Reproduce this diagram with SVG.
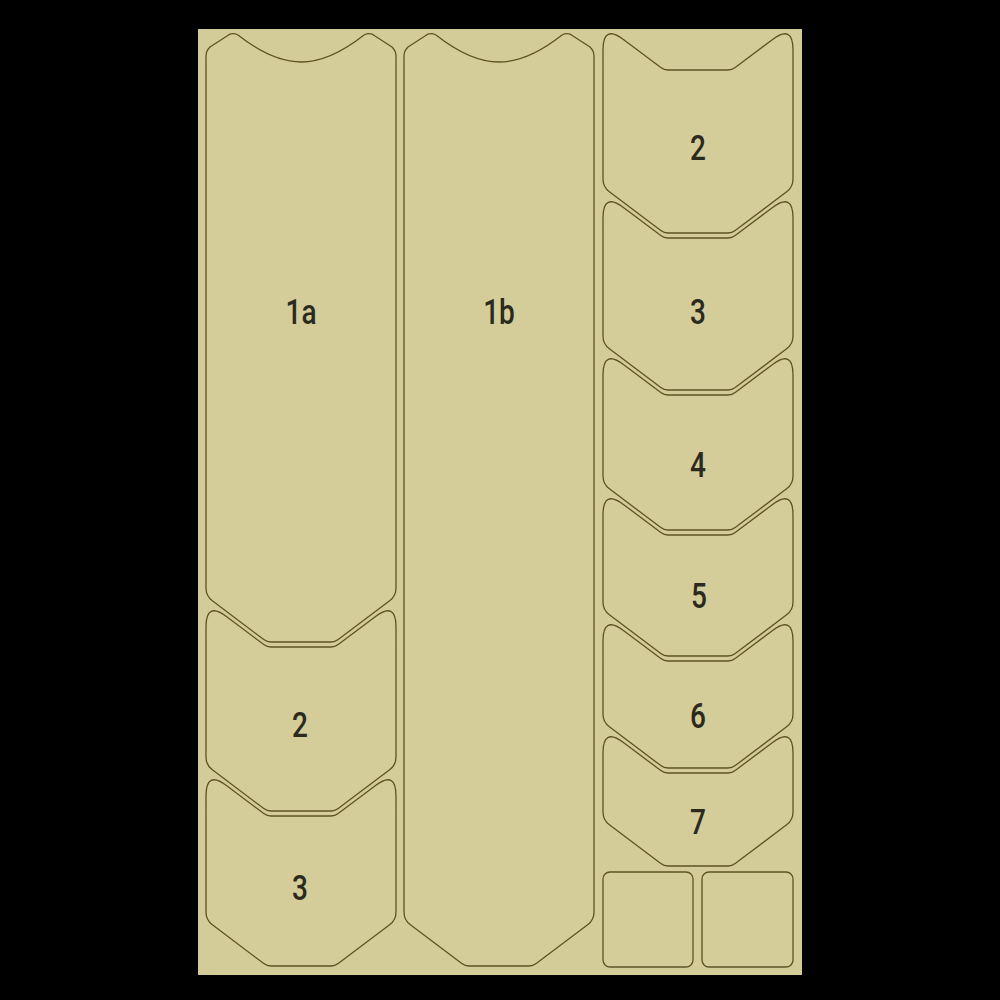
<svg xmlns="http://www.w3.org/2000/svg" width="1000" height="1000" viewBox="0 0 1000 1000">
<style>
.p{fill:#d5cd99;stroke:#5e5224;stroke-width:1.3;stroke-linejoin:round}
.t{font-family:Roboto,"Liberation Sans",sans-serif;font-weight:500;font-size:35px;fill:#2b2a1f;text-anchor:middle}
</style>
<rect x="0" y="0" width="1000" height="1000" fill="#000"/>
<rect x="198" y="29" width="604" height="946" fill="#d4cc98"/>
<g id="piece-1a">
<path class="p" d="M206,56 Q206,51 210,47 L227,36 Q232,32 238,35 C257,50 278,62 301,62 C324,62 345,50 364,35 Q370,32 375,36 L392,47 Q396,51 396,56 V588 q0,8 -6.38,12.82 l-51.43,38.77 q-3.19,2.41 -7.19,2.41 h-60 q-4,0 -7.19,-2.41 l-51.43,-38.77 q-6.38,-4.82 -6.38,-12.82 z"/>
<text class="t" transform="translate(301,324) scale(0.8,1)">1a</text>
</g>
<g id="piece-1b">
<path class="p" d="M404,56 Q404,51 408,47 L425,36 Q430,32 436,35 C455,50 476,62 499,62 C522,62 543,50 562,35 Q568,32 573,36 L590,47 Q594,51 594,56 V912 q0,8 -6.38,12.82 l-51.43,38.77 q-3.19,2.41 -7.19,2.41 h-60 q-4,0 -7.19,-2.41 l-51.43,-38.77 q-6.38,-4.82 -6.38,-12.82 z"/>
<text class="t" transform="translate(499,324) scale(0.8,1)">1b</text>
</g>
<g id="piece-left-2">
<path class="p" d="M206,627 q0,-26 20.75,-10.35 l37.06,27.94 q3.19,2.41 7.19,2.41 h60 q4,0 7.19,-2.41 l37.06,-27.94 q20.75,-15.65 20.75,10.35 V757 q0,8 -6.38,12.82 l-51.43,38.77 q-3.19,2.41 -7.19,2.41 h-60 q-4,0 -7.19,-2.41 l-51.43,-38.77 q-6.38,-4.82 -6.38,-12.82 z"/>
<text class="t" transform="translate(300,737) scale(0.8,1)">2</text>
</g>
<g id="piece-left-3">
<path class="p" d="M206,796 q0,-26 20.75,-10.35 l37.06,27.94 q3.19,2.41 7.19,2.41 h60 q4,0 7.19,-2.41 l37.06,-27.94 q20.75,-15.65 20.75,10.35 V912 q0,8 -6.38,12.82 l-51.43,38.77 q-3.19,2.41 -7.19,2.41 h-60 q-4,0 -7.19,-2.41 l-51.43,-38.77 q-6.38,-4.82 -6.38,-12.82 z"/>
<text class="t" transform="translate(300,900) scale(0.8,1)">3</text>
</g>
<g id="piece-right-2">
<path class="p" d="M603,50 q0,-26 20.75,-10.35 l37.06,27.94 q3.19,2.41 7.19,2.41 h60 q4,0 7.19,-2.41 l37.06,-27.94 q20.75,-15.65 20.75,10.35 V179 q0,8 -6.38,12.82 l-51.43,38.77 q-3.19,2.41 -7.19,2.41 h-60 q-4,0 -7.19,-2.41 l-51.43,-38.77 q-6.38,-4.82 -6.38,-12.82 z"/>
<text class="t" transform="translate(698,160) scale(0.8,1)">2</text>
</g>
<g id="piece-right-3">
<path class="p" d="M603,218 q0,-26 20.75,-10.35 l37.06,27.94 q3.19,2.41 7.19,2.41 h60 q4,0 7.19,-2.41 l37.06,-27.94 q20.75,-15.65 20.75,10.35 V336 q0,8 -6.38,12.82 l-51.43,38.77 q-3.19,2.41 -7.19,2.41 h-60 q-4,0 -7.19,-2.41 l-51.43,-38.77 q-6.38,-4.82 -6.38,-12.82 z"/>
<text class="t" transform="translate(698,324) scale(0.8,1)">3</text>
</g>
<g id="piece-right-4">
<path class="p" d="M603,375 q0,-26 20.75,-10.35 l37.06,27.94 q3.19,2.41 7.19,2.41 h60 q4,0 7.19,-2.41 l37.06,-27.94 q20.75,-15.65 20.75,10.35 V476 q0,8 -6.38,12.82 l-51.43,38.77 q-3.19,2.41 -7.19,2.41 h-60 q-4,0 -7.19,-2.41 l-51.43,-38.77 q-6.38,-4.82 -6.38,-12.82 z"/>
<text class="t" transform="translate(698,477) scale(0.8,1)">4</text>
</g>
<g id="piece-right-5">
<path class="p" d="M603,515 q0,-26 20.75,-10.35 l37.06,27.94 q3.19,2.41 7.19,2.41 h60 q4,0 7.19,-2.41 l37.06,-27.94 q20.75,-15.65 20.75,10.35 V602 q0,8 -6.38,12.82 l-51.43,38.77 q-3.19,2.41 -7.19,2.41 h-60 q-4,0 -7.19,-2.41 l-51.43,-38.77 q-6.38,-4.82 -6.38,-12.82 z"/>
<text class="t" transform="translate(699,608) scale(0.8,1)">5</text>
</g>
<g id="piece-right-6">
<path class="p" d="M603,641 q0,-26 20.75,-10.35 l37.06,27.94 q3.19,2.41 7.19,2.41 h60 q4,0 7.19,-2.41 l37.06,-27.94 q20.75,-15.65 20.75,10.35 V714 q0,8 -6.38,12.82 l-51.43,38.77 q-3.19,2.41 -7.19,2.41 h-60 q-4,0 -7.19,-2.41 l-51.43,-38.77 q-6.38,-4.82 -6.38,-12.82 z"/>
<text class="t" transform="translate(698,728) scale(0.8,1)">6</text>
</g>
<g id="piece-right-7">
<path class="p" d="M603,753 q0,-26 20.75,-10.35 l37.06,27.94 q3.19,2.41 7.19,2.41 h60 q4,0 7.19,-2.41 l37.06,-27.94 q20.75,-15.65 20.75,10.35 V812 q0,8 -6.38,12.82 l-51.43,38.77 q-3.19,2.41 -7.19,2.41 h-60 q-4,0 -7.19,-2.41 l-51.43,-38.77 q-6.38,-4.82 -6.38,-12.82 z"/>
<text class="t" transform="translate(698,834) scale(0.8,1)">7</text>
</g>
<g id="square-left">
<rect class="p" x="603" y="872" width="90" height="95" rx="7"/>
</g>
<g id="square-right">
<rect class="p" x="702" y="872" width="91" height="95" rx="7"/>
</g>
<g id="connectors"></g>
</svg>
